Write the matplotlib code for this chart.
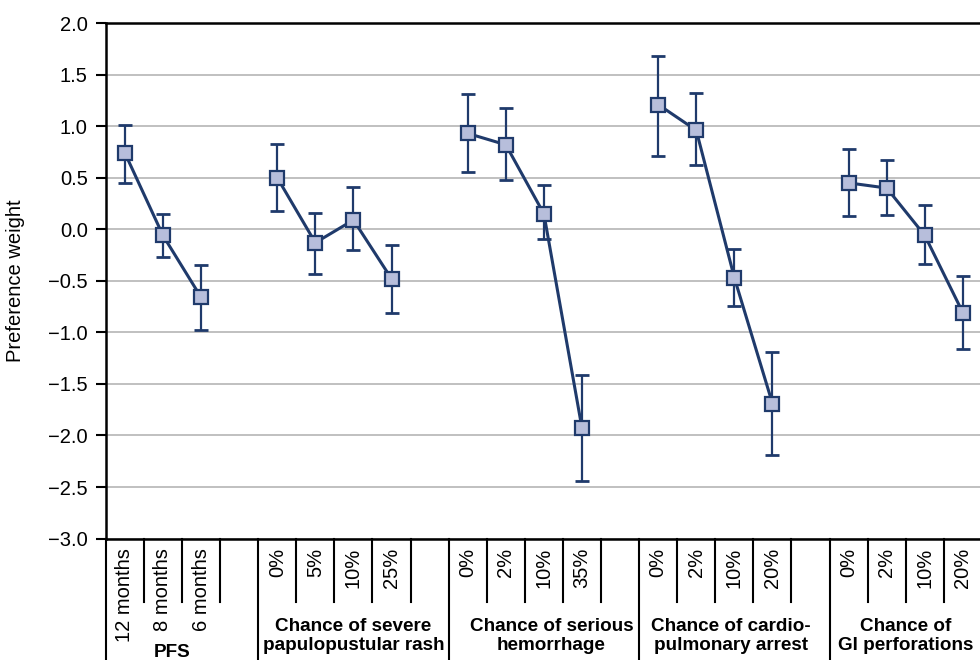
import numpy as np
import matplotlib
matplotlib.use("Agg")
import matplotlib.pyplot as plt
import matplotlib.transforms as mtransforms

plt.rcParams['font.family'] = ['Liberation Sans', 'DejaVu Sans']

groups = ["PFS", "Chance of severe\npapulopustular rash", "Chance of serious\nhemorrhage",
          "Chance of cardio-\npulmonary arrest", "Chance of\nGI perforations"]
levels = [["12 months", "8 months", "6 months"],
          ["0%", "5%", "10%", "25%"],
          ["0%", "2%", "10%", "35%"],
          ["0%", "2%", "10%", "20%"],
          ["0%", "2%", "10%", "20%"]]
means = [[0.74, -0.06, -0.66],
         [0.50, -0.13, 0.09, -0.48],
         [0.93, 0.82, 0.15, -1.93],
         [1.21, 0.96, -0.47, -1.69],
         [0.45, 0.40, -0.06, -0.81]]
upper = [[1.01, 0.15, -0.35],
         [0.83, 0.16, 0.41, -0.15],
         [1.31, 1.18, 0.43, -1.41],
         [1.68, 1.32, -0.19, -1.19],
         [0.78, 0.675, 0.24, -0.45]]
lower = [[0.45, -0.27, -0.975],
         [0.18, -0.43, -0.20, -0.81],
         [0.56, 0.48, -0.09, -2.44],
         [0.71, 0.62, -0.74, -2.19],
         [0.125, 0.135, -0.34, -1.16]]
# where the group caption sits (slot units)
group_centers = [1.75, 6.5, 11.7, 16.4, 21.0]

navy = "#1f3a6b"
face = "#b7bedb"

fig = plt.figure(figsize=(9.8, 6.6), dpi=100)
ax = fig.add_axes([0.108, 0.184, 0.894, 0.781])

trans = mtransforms.blended_transform_factory(ax.transData, ax.transAxes)

start = 0
for g in range(len(groups)):
    n = len(levels[g])
    x = np.arange(n) + start + 0.5
    m = np.array(means[g])
    yerr = [m - np.array(lower[g]), np.array(upper[g]) - m]
    ax.errorbar(x, m, yerr=yerr, fmt='none', ecolor=navy, elinewidth=1.6,
                capsize=5, capthick=2, zorder=3)
    ax.plot(x, m, color=navy, lw=2.2, marker='s', markersize=10,
            markerfacecolor=face, markeredgecolor=navy, markeredgewidth=1.6, zorder=4)
    for i, lab in enumerate(levels[g]):
        ax.text(x[i], -0.018, lab, transform=trans, rotation=90, ha='center',
                va='top', fontsize=14.5)
    # separators under the axis
    ax.plot([start, start], [0, -0.35], transform=trans, color='black', lw=1.5, clip_on=False)
    for b in range(start + 1, start + n + 1):
        ax.plot([b, b], [0, -0.124], transform=trans, color='black', lw=1.5, clip_on=False)
    if groups[g] == "PFS":
        ax.text(group_centers[g], -0.222, groups[g], transform=trans, ha='center',
                va='center', fontsize=13.6, fontweight='bold')
    else:
        ax.text(group_centers[g], -0.189, groups[g], transform=trans, ha='center',
                va='center', fontsize=13.6, fontweight='bold', linespacing=1.12)
    start += n + 1

ax.set_xlim(0, 23)
ax.set_ylim(-3.0, 2.0)
ax.set_yticks(np.arange(-3.0, 2.01, 0.5))
ax.set_yticklabels([f"{v:.1f}".replace("-", "\u2212") for v in np.arange(-3.0, 2.01, 0.5)])
ax.set_xticks([])
ax.yaxis.grid(True, color="#b5b5b5", lw=1.2)
ax.set_axisbelow(True)
ax.tick_params(axis='y', direction='out', length=7, width=1.5, labelsize=14.5, pad=6)
for s in ['left', 'top', 'bottom']:
    ax.spines[s].set_linewidth(1.8)
ax.spines['right'].set_visible(False)
ax.set_ylabel("Preference weight", fontsize=14.5)
ax.yaxis.set_label_coords(-0.092, 0.5)

fig.savefig("out.png", dpi=100)
